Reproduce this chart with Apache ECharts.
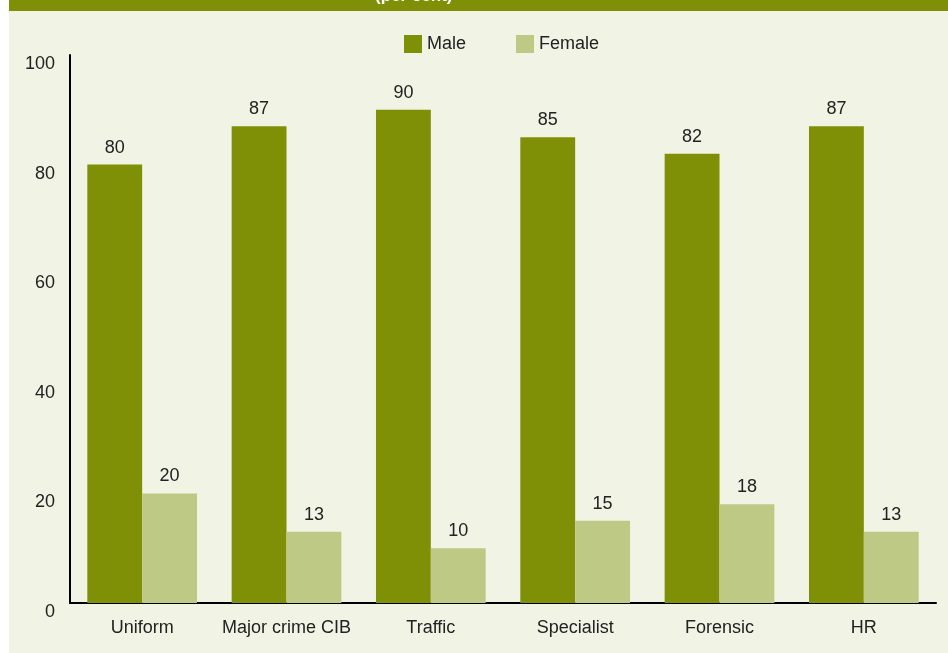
<!DOCTYPE html>
<html>
<head>
<meta charset="utf-8">
<script src="https://cdn.jsdelivr.net/npm/echarts@6/dist/echarts.min.js"></script>
<style>
html,body{margin:0;padding:0;background:#ffffff;}
#chart{width:948px;height:653px;}
</style>
</head>
<body>
<div id="chart"></div>
<script>
var categories = ['Uniform', 'Major crime CIB', 'Traffic', 'Specialist', 'Forensic', 'HR'];
var maleValues = [80, 87, 90, 85, 82, 87];
var femaleValues = [20, 13, 10, 15, 18, 13];
var yTicks = [0, 20, 40, 60, 80, 100];

var FONT = "'Liberation Sans Narrow', 'Liberation Sans', 'Arial Narrow', sans-serif";
var chart = echarts.init(document.getElementById('chart'));
chart.setOption({
  backgroundColor: '#ffffff',
  animation: false,
  textStyle: {fontFamily: FONT},
  graphic: [
    {type: 'rect', z: -10, shape: {x: 9, y: 0, width: 939, height: 653}, style: {fill: '#f1f3e5'}, silent: true},
    {type: 'rect', z: -9, shape: {x: 9, y: 0, width: 939, height: 11}, style: {fill: '#7f9007'}, silent: true},
    {type: 'text', z: -8, left: 375, top: -12, style: {text: '(per cent)', fill: '#ffffff', font: 'bold 17px ' + FONT}, silent: true}
  ],
  legend: {
    data: ['Male', 'Female'],
    top: 30,
    left: 399,
    itemWidth: 18,
    itemHeight: 18,
    itemGap: 50,
    icon: 'rect',
    textStyle: {fontSize: 18, color: '#222222', fontFamily: FONT}
  },
  grid: {left: 70, right: 12, top: 55, bottom: 50, containLabel: false},
  xAxis: {
    type: 'category',
    data: categories,
    axisLine: {lineStyle: {color: '#000000', width: 2}},
    axisTick: {show: false},
    axisLabel: {fontSize: 18, color: '#222222', margin: 16, interval: 0, fontFamily: FONT}
  },
  yAxis: {
    type: 'value',
    min: 0,
    max: 100,
    interval: 20,
    axisLine: {show: true, lineStyle: {color: '#000000', width: 2}},
    axisTick: {show: false},
    splitLine: {show: false},
    axisLabel: {fontSize: 18, color: '#222222', margin: 15, verticalAlign: 'top', fontFamily: FONT,
      formatter: function (v) { return yTicks.indexOf(v) >= 0 ? String(v) : ''; }}
  },
  series: [
    {
      name: 'Male', type: 'bar', data: maleValues,
      barGap: '0%', barCategoryGap: '24%',
      itemStyle: {color: '#7f9007'},
      label: {show: true, position: 'top', distance: 8, fontSize: 18, color: '#222222', fontFamily: FONT}
    },
    {
      name: 'Female', type: 'bar', data: femaleValues,
      barGap: '0%', barCategoryGap: '24%',
      itemStyle: {color: '#bfc986'},
      label: {show: true, position: 'top', distance: 8, fontSize: 18, color: '#222222', fontFamily: FONT}
    }
  ]
});
</script>
</body>
</html>
